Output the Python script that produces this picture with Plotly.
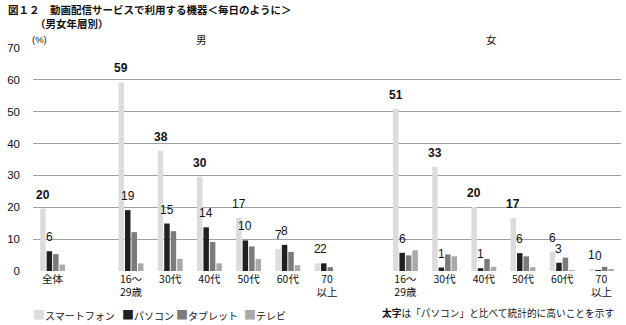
import plotly.graph_objects as go

# ---- data ----
devices = ["スマートフォン", "パソコン", "タブレット", "テレビ"]
colors = ["#dcdcdc", "#231f20", "#7b7b7b", "#a9a9a9"]

male_labels = ["全体", "16～<br>29歳", "30代", "40代", "50代", "60代", "70<br>以上"]
female_labels = ["16～<br>29歳", "30代", "40代", "50代", "60代", "70<br>以上"]

male_smartphone = [19.6, 59.2, 37.7, 29.6, 16.7, 6.9, 2.4]
male_pc = [6.2, 19.1, 14.9, 13.7, 9.6, 8.2, 2.4]
male_tablet = [5.3, 12.2, 12.5, 9.1, 7.7, 6.0, 1.2]
male_tv = [2.0, 2.4, 3.8, 2.4, 3.8, 1.8, 0.0]

female_smartphone = [50.9, 32.7, 20.1, 16.6, 6.1, 0.6]
female_pc = [5.7, 1.1, 0.9, 5.6, 2.6, 0.3]
female_tablet = [4.9, 5.2, 3.8, 4.6, 4.2, 1.3]
female_tv = [6.5, 4.6, 1.3, 1.2, 0.3, 0.4]

# smartphone significantly higher than PC (bold labels)
male_bold = [True, True, True, True, False, False, False]
female_bold = [True, True, True, True, False, False]

y_ticks = [0, 10, 20, 30, 40, 50, 60, 70]

# ---- layout helpers ----
W, H = 626, 325
ML, MR, MT, MB = 33, 5, 48, 54
PW, PH = W - ML - MR, H - MT - MB
BARGAP, BARGROUPGAP = 0.34, 0.15

def px(x):
    return (x - ML) / PW

def py(y):
    return 1 - (y - MT) / PH

# slot positions: 全体, gap, male ages, gap, female ages
x_pos = [0] + list(range(2, 2 + len(male_labels) - 1)) + \
        list(range(len(male_labels) + 2, len(male_labels) + 2 + len(female_labels)))
tick_text = male_labels + female_labels

series = [
    male_smartphone + female_smartphone,
    male_pc + female_pc,
    male_tablet + female_tablet,
    male_tv + female_tv,
]
bold = male_bold + female_bold

FONT = "Liberation Sans, Arial, Noto Sans CJK JP, sans-serif"
JFONT = "Noto Sans CJK JP, sans-serif"

fig = go.Figure()
for name, col, vals in zip(devices, colors, series):
    fig.add_trace(go.Bar(x=x_pos, y=vals, name=name, marker=dict(color=col, line=dict(width=0)),
                         showlegend=False))

fig.update_layout(
    width=W, height=H,
    margin=dict(l=ML, r=MR, t=MT, b=MB, pad=0),
    paper_bgcolor="white", plot_bgcolor="white",
    barmode="group", bargap=BARGAP, bargroupgap=BARGROUPGAP,
    font=dict(family=FONT, color="#111111", size=11),
    xaxis=dict(range=[-0.5, 14.5], tickvals=x_pos, ticktext=tick_text, showgrid=False,
               zeroline=False, showline=False, ticks="", tickfont=dict(size=10.5, family=JFONT),
               fixedrange=True),
    yaxis=dict(range=[0, 70], tickvals=y_ticks, showgrid=True, gridcolor="#a0a0a0", gridwidth=1,
               zeroline=False, showline=False, ticks="", ticklabelstandoff=12,
               tickfont=dict(size=11.5, family=FONT, color="#111111"), fixedrange=True),
)

ann = []
# value labels for smartphone (series 0) and PC (series 1), placed over their bars
n_series = len(series)
bar_w = (1 - BARGAP) / n_series
for s in (0, 1):
    for xp, v, b in zip(x_pos, series[s], bold):
        xo = xp + (s - (n_series - 1) / 2) * bar_w
        txt = f"{int(v + 0.5)}"
        if s == 0 and b:
            txt = f"<b>{txt}</b>"
        ann.append(dict(text=txt, x=xo, y=v, xref="x", yref="y", xanchor="center", yanchor="bottom",
                        yshift=5, showarrow=False, font=dict(size=12, family=FONT, color="#111111")))
# title
ann.append(dict(text="<b>図１２　動画配信サービスで利用する機器＜毎日のように＞</b>", x=px(6), y=py(10),
                xref="paper", yref="paper", xanchor="left", yanchor="middle", showarrow=False,
                font=dict(size=10.5, family=JFONT, color="#111111")))
ann.append(dict(text="<b>（男女年層別）</b>", x=px(33), y=py(24),
                xref="paper", yref="paper", xanchor="left", yanchor="middle", showarrow=False,
                font=dict(size=10.5, family=JFONT, color="#111111")))
ann.append(dict(text="(%)", x=px(30), y=py(39), xref="paper", yref="paper", xanchor="left",
                yanchor="middle", showarrow=False, font=dict(size=9.5, family=FONT)))
ann.append(dict(text="男", x=px(201.5), y=py(40), xref="paper", yref="paper", xanchor="center",
                yanchor="middle", showarrow=False, font=dict(size=10.5, family=JFONT)))
ann.append(dict(text="女", x=px(491.5), y=py(40), xref="paper", yref="paper", xanchor="center",
                yanchor="middle", showarrow=False, font=dict(size=10.5, family=JFONT)))
# legend
leg_x = [31, 120, 174, 242]
for name, col, lx in zip(devices, colors, leg_x):
    ann.append(dict(text=f"<span style='color:{col};font-size:12px'>■</span>{name}", x=px(lx), y=py(314),
                    xref="paper", yref="paper", xanchor="left", yanchor="middle", showarrow=False,
                    font=dict(size=10, family=JFONT, color="#111111")))
ann.append(dict(text="<b>太字</b>は「パソコン」と比べて統計的に高いことを示す", x=px(380), y=py(313),
                xref="paper", yref="paper", xanchor="left", yanchor="middle", showarrow=False,
                font=dict(size=9.7, family=JFONT, color="#111111")))
fig.update_layout(annotations=ann)

fig.write_html("out.html")
